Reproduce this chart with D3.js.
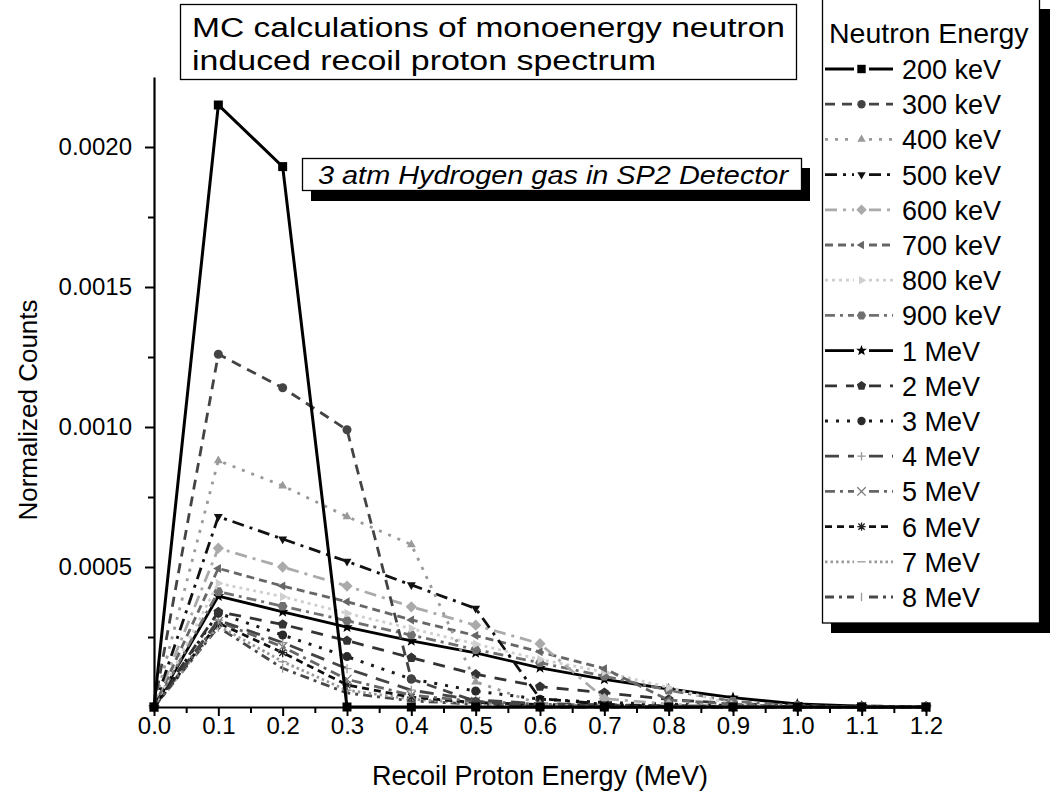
<!DOCTYPE html>
<html>
<head>
<meta charset="utf-8">
<script src="https://cdn.jsdelivr.net/npm/d3@7"></script>
<style>
  html, body { margin: 0; padding: 0; background: #fff; }
  svg { display: block; font-family: "Liberation Sans", Arial, Helvetica, sans-serif; }
</style>
</head>
<body>
<svg id="chart" width="1050" height="798"></svg>
<script>
// ---------------- DATA ----------------
const energyMeV = [0, 0.1, 0.2, 0.3, 0.4, 0.5, 0.6, 0.7, 0.8, 0.9, 1.0, 1.1, 1.2];
const seriesLabels = ["200 keV", "300 keV", "400 keV", "500 keV", "600 keV", "700 keV", "800 keV", "900 keV",
                      "1 MeV", "2 MeV", "3 MeV", "4 MeV", "5 MeV", "6 MeV", "7 MeV", "8 MeV"];
const n200keV = [0, 0.00215, 0.00193, 0, 0, 0, 0, 0, 0, 0, 0, 0, 0];
const n300keV = [0, 0.00126, 0.00114, 0.00099, 0.0001, 0.00002, 0, 0, 0, 0, 0, 0, 0];
const n400keV = [0, 0.00088, 0.00079, 0.00068, 0.00058, 0.00009, 0.00001, 0, 0, 0, 0, 0, 0];
const n500keV = [0, 0.00068, 0.0006, 0.00052, 0.000436, 0.000352, 0.00003, 0.00001, 0, 0, 0, 0, 0];
const n600keV = [0, 0.000567, 0.0005, 0.000432, 0.000358, 0.000292, 0.000226, 0.00003, 0.00001, 0, 0, 0, 0];
const n700keV = [0, 0.000495, 0.000432, 0.000376, 0.000311, 0.000255, 0.000197, 0.000137, 0.000025, 0.00001, 0, 0, 0];
const n800keV = [0, 0.000442, 0.000394, 0.000335, 0.00028, 0.000225, 0.00017, 0.000125, 0.00007, 0.00001, 0, 0, 0];
const n900keV = [0, 0.000412, 0.00036, 0.000308, 0.000257, 0.000205, 0.000158, 0.00011, 0.00006, 0.00002, 0.000005, 0, 0];
const n1MeV = [0, 0.000396, 0.00034, 0.000285, 0.000236, 0.000193, 0.00014, 0.0000988, 0.0000643, 0.0000333, 0.0000107, 0.000003, 0];
const n2MeV = [0, 0.00034, 0.000295, 0.000237, 0.000176, 0.000117, 0.0000726, 0.000051, 0.000027, 0.000012, 0.000005, 0.000003, 0.000002];
const n3MeV = [0, 0.000335, 0.000257, 0.00018, 0.0001, 0.000057, 0.000028, 0.000016, 0.00001, 0.000005, 0.000003, 0.000002, 0.000001];
const n4MeV = [0, 0.00031, 0.00023, 0.000137, 0.00006, 0.000025, 0.000012, 0.000008, 0.000005, 0.000003, 0.000002, 0.000001, 0];
const n5MeV = [0, 0.000305, 0.000215, 0.0000988, 0.000042, 0.00002, 0.00001, 0.000007, 0.000004, 0.000002, 0.000001, 0.000001, 0];
const n6MeV = [0, 0.0003, 0.000194, 0.0000786, 0.000035, 0.000016, 0.000009, 0.000006, 0.000003, 0.000002, 0.000001, 0, 0];
const n7MeV = [0, 0.00029, 0.000162, 0.00006, 0.000028, 0.000013, 0.000007, 0.000005, 0.000003, 0.000002, 0.000001, 0, 0];
const n8MeV = [0, 0.000285, 0.000138, 0.00005, 0.000022, 0.00001, 0.000006, 0.000004, 0.000002, 0.000001, 0, 0, 0];
const seriesValues = [n200keV, n300keV, n400keV, n500keV, n600keV, n700keV, n800keV, n900keV,
                      n1MeV, n2MeV, n3MeV, n4MeV, n5MeV, n6MeV, n7MeV, n8MeV];
const xTickValues = [0, 0.1, 0.2, 0.3, 0.4, 0.5, 0.6, 0.7, 0.8, 0.9, 1.0, 1.1, 1.2];
const yTickValues = [0.0005, 0.0010, 0.0015, 0.0020];
const titleLines = ["MC calculations of monoenergy neutron", "induced recoil proton spectrum"];
const subtitleText = "3 atm Hydrogen gas in SP2 Detector";
const legendTitle = "Neutron Energy";
const xTitle = "Recoil Proton Energy (MeV)";
const yTitle = "Normalized Counts";

// ---------------- STYLES ----------------
const styles = [
  { color: "#000", dash: null,          w: 3,   marker: "square",   mfill: "#000" },
  { color: "#444", dash: "10,7",        w: 2.8, marker: "circle",   mfill: "#444" },
  { color: "#9a9a9a", dash: "3,7",      w: 2.8, marker: "triUp",    mfill: "#9a9a9a" },
  { color: "#111", dash: "12,6,3,6",    w: 2.8, marker: "triDown",  mfill: "#111" },
  { color: "#aaa", dash: "12,6,3,6",    w: 2.8, marker: "diamond",  mfill: "#aaa" },
  { color: "#666", dash: "8,5",         w: 2.8, marker: "triLeft",  mfill: "#666" },
  { color: "#cfcfcf", dash: "3,4",      w: 2.8, marker: "triRight", mfill: "#cfcfcf" },
  { color: "#707070", dash: "10,5,3,5", w: 2.8, marker: "hexagon",  mfill: "#707070" },
  { color: "#000", dash: null,          w: 2.8, marker: "star",     mfill: "#000" },
  { color: "#333", dash: "12,9",        w: 2.8, marker: "pentagon", mfill: "#333" },
  { color: "#1a1a1a", dash: "3,8",      w: 3,   marker: "circle",   mfill: "#2a2a2a" },
  { color: "#444", dash: "14,9",        w: 2.8, marker: "plus",     mfill: "#999" },
  { color: "#666", dash: "10,5,3,5",    w: 2.8, marker: "cross",    mfill: "#777" },
  { color: "#111", dash: "7,5",         w: 2.8, marker: "asterisk", mfill: "#222" },
  { color: "#999", dash: "2.5,3",       w: 2.8, marker: "hbar",     mfill: "#999" },
  { color: "#484848", dash: "9,5,3,5",  w: 2.8, marker: "vbar",     mfill: "#999" }
];

function poly(n, r, rot) {
  const pts = [];
  for (let i = 0; i < n; i++) {
    const a = rot + i * 2 * Math.PI / n;
    pts.push([r * Math.cos(a), r * Math.sin(a)]);
  }
  return "M" + pts.map(p => p[0].toFixed(2) + "," + p[1].toFixed(2)).join("L") + "Z";
}
function starPath(r) {
  const pts = [];
  for (let i = 0; i < 10; i++) {
    const a = -Math.PI / 2 + i * Math.PI / 5;
    const rr = i % 2 === 0 ? r : r * 0.42;
    pts.push([rr * Math.cos(a), rr * Math.sin(a)]);
  }
  return "M" + pts.map(p => p[0].toFixed(2) + "," + p[1].toFixed(2)).join("L") + "Z";
}
const strokeMarkers = new Set(["plus", "cross", "asterisk", "hbar", "vbar"]);
function markerPath(type, r) {
  switch (type) {
    case "square": return `M${-r},${-r}h${2*r}v${2*r}h${-2*r}Z`;
    case "circle": return `M${r},0A${r},${r} 0 1 1 ${-r},0A${r},${r} 0 1 1 ${r},0Z`;
    case "triUp": return poly(3, r * 1.15, -Math.PI / 2);
    case "triDown": return poly(3, r * 1.15, Math.PI / 2);
    case "triLeft": return poly(3, r * 1.15, Math.PI);
    case "triRight": return poly(3, r * 1.15, 0);
    case "diamond": return poly(4, r * 1.25, -Math.PI / 2);
    case "hexagon": return poly(6, r * 1.1, 0);
    case "pentagon": return poly(5, r * 1.15, -Math.PI / 2);
    case "star": return starPath(r * 1.35);
    case "plus": return `M${-r},0H${r}M0,${-r}V${r}`;
    case "cross": return `M${-r},${-r}L${r},${r}M${-r},${r}L${r},${-r}`;
    case "asterisk": {
      const d = r * 0.75;
      return `M${-r},0H${r}M0,${-r}V${r}M${-d},${-d}L${d},${d}M${-d},${d}L${d},${-d}`;
    }
    case "hbar": return `M${-r},0H${r}`;
    case "vbar": return `M0,${-r}V${r}`;
  }
}
function drawMarker(g, type, fill, cx, cy, r) {
  const p = g.append("path").attr("d", markerPath(type, r)).attr("transform", `translate(${cx},${cy})`);
  if (strokeMarkers.has(type)) {
    p.attr("fill", "none").attr("stroke", fill).attr("stroke-width", 1.3);
  } else {
    p.attr("fill", fill).attr("stroke", "none");
  }
}

// ---------------- CHART ----------------
const svg = d3.select("#chart");
svg.append("rect").attr("width", 1050).attr("height", 798).attr("fill", "#fff");

const x = d3.scaleLinear().domain([0, 1.2]).range([154, 926]);
const y = d3.scaleLinear().domain([0, 0.00225]).range([707, 77]);

// series (drawn in reverse so 200 keV is on top)
const plot = svg.append("g");
const line = d3.line().x((d, i) => x(energyMeV[i])).y(d => y(d));
for (let k = seriesValues.length - 1; k >= 0; k--) {
  const st = styles[k];
  const vals = seriesValues[k];
  plot.append("path").datum(vals).attr("d", line)
    .attr("fill", "none").attr("stroke", st.color).attr("stroke-width", st.w)
    .attr("stroke-dasharray", st.dash).attr("stroke-linejoin", "miter");
  const mg = plot.append("g");
  vals.forEach((v, i) => drawMarker(mg, st.marker, st.mfill, x(energyMeV[i]), y(v), 4.5));
}

// axes
const axisFont = 24;
const xMinor = d3.range(0.05, 1.2, 0.1);
const gxMinor = svg.append("g").attr("transform", "translate(0,707)")
  .call(d3.axisBottom(x).tickValues(xMinor).tickSize(6).tickFormat(""));
gxMinor.select(".domain").remove();
const gx = svg.append("g").attr("transform", "translate(0,707)")
  .call(d3.axisBottom(x).tickValues(xTickValues).tickSize(9).tickPadding(1).tickFormat(d3.format(".1f")).tickSizeOuter(0));
gx.selectAll("text").attr("font-size", axisFont).attr("fill", "#000").attr("font-family", "Liberation Sans, Arial, sans-serif");

const yMinor = [0.00025, 0.00075, 0.00125, 0.00175];
const gyMinor = svg.append("g").attr("transform", "translate(154,0)")
  .call(d3.axisLeft(y).tickValues(yMinor).tickSize(6).tickFormat(""));
gyMinor.select(".domain").remove();
const gy = svg.append("g").attr("transform", "translate(154,0)")
  .call(d3.axisLeft(y).tickValues(yTickValues).tickSize(9).tickPadding(13).tickFormat(d3.format(".4f")).tickSizeOuter(0));
gy.selectAll("text").attr("font-size", axisFont).attr("fill", "#000").attr("font-family", "Liberation Sans, Arial, sans-serif");

[gx, gy, gxMinor, gyMinor].forEach(g => {
  g.selectAll(".domain").attr("stroke", "#000").attr("stroke-width", 2.2);
  g.selectAll(".tick line").attr("stroke", "#000").attr("stroke-width", 2);
});

// axis titles
svg.append("text").attr("x", 540).attr("y", 785).attr("text-anchor", "middle")
  .attr("font-size", 27).attr("fill", "#000").text(xTitle);
svg.append("text").attr("transform", "translate(37,410) rotate(-90)").attr("text-anchor", "middle")
  .attr("font-size", 26).attr("fill", "#000").text(yTitle);

// title box
svg.append("rect").attr("x", 180.5).attr("y", 4.5).attr("width", 616).attr("height", 75)
  .attr("fill", "#fff").attr("stroke", "#000").attr("stroke-width", 1.3);
const titleLengths = [593, 464];
titleLines.forEach((t, i) => {
  svg.append("text").attr("x", 192).attr("y", 37 + i * 33).attr("font-size", 27).attr("fill", "#000")
    .attr("textLength", titleLengths[i]).attr("lengthAdjust", "spacingAndGlyphs").text(t);
});

// subtitle box with shadow
svg.append("rect").attr("x", 311).attr("y", 168).attr("width", 499).attr("height", 33).attr("fill", "#000");
svg.append("rect").attr("x", 302.5).attr("y", 158.5).attr("width", 499).attr("height", 32)
  .attr("fill", "#fff").attr("stroke", "#000").attr("stroke-width", 1.3);
svg.append("text").attr("x", 318).attr("y", 184).attr("font-size", 25)
  .attr("textLength", 470).attr("lengthAdjust", "spacingAndGlyphs")
  .attr("font-style", "italic").attr("fill", "#000").text(subtitleText);

// legend
svg.append("rect").attr("x", 831).attr("y", 9).attr("width", 230).attr("height", 624).attr("fill", "#000");
svg.append("rect").attr("x", 822.5).attr("y", -1).attr("width", 217).attr("height", 624)
  .attr("fill", "#fff").attr("stroke", "#000").attr("stroke-width", 1.3);
svg.append("text").attr("x", 829).attr("y", 43).attr("font-size", 28.5).attr("fill", "#000").text(legendTitle);
seriesLabels.forEach((lab, i) => {
  const st = styles[i];
  const cy = 69 + i * 35.2;
  const lg = svg.append("g");
  [[825, 854], [869, 893]].forEach(seg => {
    lg.append("line").attr("x1", seg[0]).attr("x2", seg[1]).attr("y1", cy).attr("y2", cy)
      .attr("stroke", st.color).attr("stroke-width", st.w).attr("stroke-dasharray", st.dash);
  });
  drawMarker(lg, st.marker, st.mfill, 861.5, cy, 4.2);
  lg.append("text").attr("x", 902).attr("y", cy + 10).attr("font-size", 27).attr("fill", "#000").text(lab);
});
</script>
</body>
</html>
